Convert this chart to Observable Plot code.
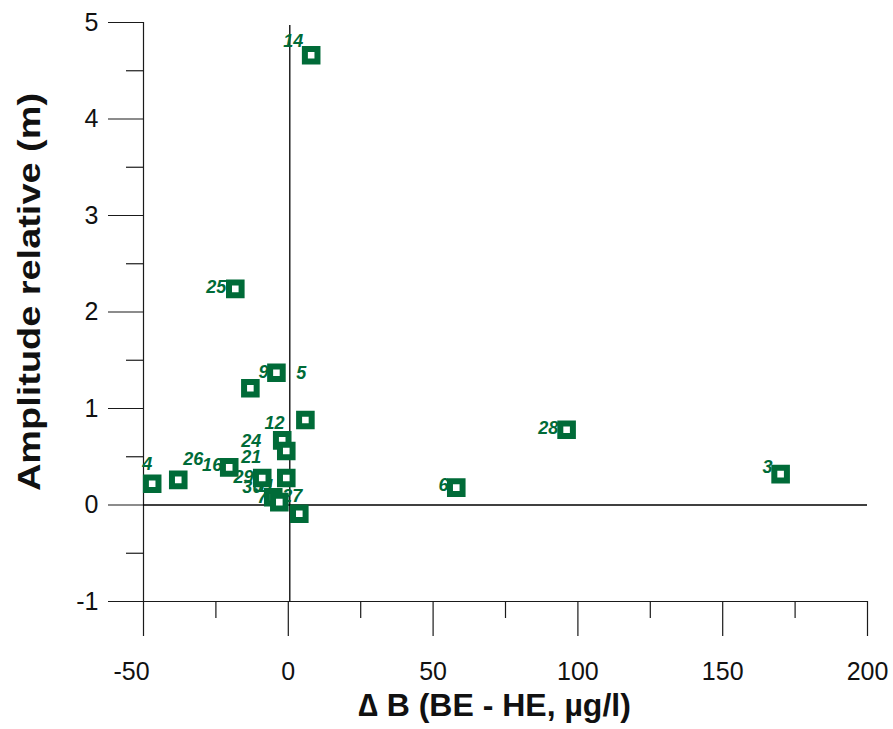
<!DOCTYPE html>
<html>
<head>
<meta charset="utf-8">
<script src="https://cdn.jsdelivr.net/npm/d3@7"></script>
<script src="https://cdn.jsdelivr.net/npm/@observablehq/plot@0.6"></script>
<style>
  html, body { margin: 0; padding: 0; background: #fff; }
  #chart svg { display: block; }
</style>
</head>
<body>
<div id="chart"></div>
<script>
// Points: ΔB (µg/l) and relative amplitude (m)
const pointX = [7.9, -18.3, -4.1, -13.1, 5.9, -2.1, -0.7, -47.0, -38.0, -20.4, -9.0, -0.7, -5.2, -3.1, 3.8, 58.0, 96.1, 170.0];
const pointY = [4.66, 2.24, 1.37, 1.21, 0.88, 0.67, 0.56, 0.22, 0.26, 0.39, 0.28, 0.28, 0.08, 0.03, -0.09, 0.18, 0.78, 0.32];

// Point labels and where they sit (data units)
const labelText = ["14", "25", "9", "5", "12", "24", "21", "4", "26", "16", "29", "30", "31", "7", "27", "6", "28", "3"];
const labelX = [1.7, -24.9, -8.6, 4.5, -4.8, -12.8, -12.8, -48.7, -32.8, -26.3, -15.5, -12.4, -8.2, -9.0, 1.4, 53.6, 89.8, 165.5];
const labelY = [4.81, 2.26, 1.38, 1.37, 0.85, 0.66, 0.49, 0.42, 0.47, 0.41, 0.29, 0.18, 0.19, 0.08, 0.09, 0.21, 0.80, 0.39];

const xMajor = [-50, 0, 50, 100, 150, 200];
const xMinor = [-25, 25, 75, 125, 175];
const yMajor = [-1, 0, 1, 2, 3, 4, 5];
const yMinor = [-0.5, 0.5, 1.5, 2.5, 3.5, 4.5];

const xTitle = "\u2206 B (BE - HE, \u00b5g/l)";
const yTitle = "Amplitude relative (m)";

const points = pointX.map((x, i) => ({x, y: pointY[i]}));
const labels = labelText.map((t, i) => ({t, x: labelX[i], y: labelY[i]}));

const green = "#006b38";
const ink = "#1a1a1a";
const negTicks = xMajor.filter(d => d < 0);
const posTicks = xMajor.filter(d => d >= 0);

const chart = Plot.plot({
  width: 893,
  height: 729,
  marginLeft: 143,
  marginRight: 26,
  marginTop: 22,
  marginBottom: 128,
  style: {fontFamily: "'Liberation Sans', Arial, sans-serif", background: "#fff"},
  x: {domain: [-50, 200]},
  y: {domain: [-1, 5]},
  marks: [
    // axis lines
    Plot.ruleX([-50], {y1: -1, y2: 5, stroke: ink, strokeWidth: 1.2}),
    Plot.ruleY([-1], {x1: -50, x2: 200, stroke: ink, strokeWidth: 1.2}),
    // zero lines
    Plot.ruleX([0], {y1: -1, y2: 4.97, stroke: "#000", strokeWidth: 1.3, dx: 1.5}),
    Plot.ruleY([0], {x1: -50, x2: 200, stroke: "#000", strokeWidth: 1.3}),
    // major / minor ticks
    Plot.axisX({ticks: xMajor, tickSize: 35, text: null, label: null, stroke: ink, strokeWidth: 1.2}),
    Plot.axisX({ticks: posTicks, tickSize: 0, tickPadding: 61, tickFormat: d => String(d), fontSize: 25, label: null, color: "#111"}),
    Plot.axisX({ticks: negTicks, tickSize: 0, tickPadding: 61, dx: -12, tickFormat: d => String(d), fontSize: 25, label: null, color: "#111"}),
    Plot.axisX({ticks: xMinor, tickSize: 17, text: null, label: null, stroke: ink, strokeWidth: 1.2}),
    Plot.axisY({ticks: yMajor, tickSize: 35, tickPadding: 10, tickFormat: d => String(d), fontSize: 25, label: null, stroke: ink, strokeWidth: 1.2, color: "#111"}),
    Plot.axisY({ticks: yMinor, tickSize: 17, text: null, label: null, stroke: ink, strokeWidth: 1.2}),
    // axis titles
    Plot.text([yTitle], {frameAnchor: "left", textAnchor: "middle", rotate: -90, dx: -114, dy: -20, fontSize: 32, fontWeight: "bold", fill: "#111", className: "ytitle"}),
    Plot.text([xTitle], {frameAnchor: "bottom", textAnchor: "middle", dx: -11, dy: 114, fontSize: 32, fontWeight: "bold", fill: "#111"}),
    // point labels
    Plot.text(labels, {x: "x", y: "y", text: "t", fill: green, fontSize: 18, fontWeight: "bold", fontStyle: "italic"}),
    // points
    Plot.dot(points, {x: "x", y: "y", symbol: "square", r: 7.1, fill: "#fff", stroke: green, strokeWidth: 6})
  ]
});

// stretch the vertical title to the reference's length
const yt = chart.querySelector(".ytitle text");
if (yt) {
  yt.setAttribute("textLength", "398");
  yt.setAttribute("lengthAdjust", "spacingAndGlyphs");
}

document.getElementById("chart").appendChild(chart);
</script>
</body>
</html>
